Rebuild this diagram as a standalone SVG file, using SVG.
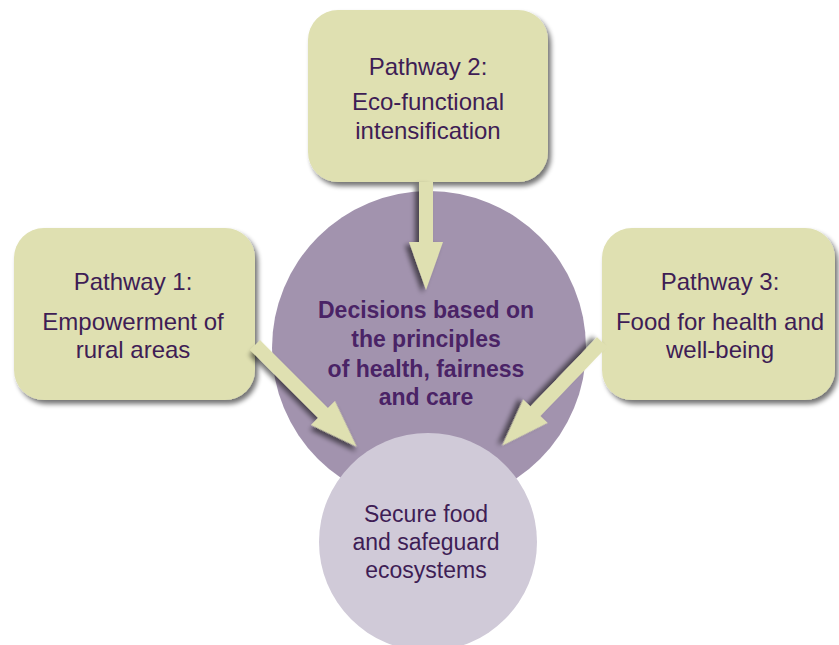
<svg xmlns="http://www.w3.org/2000/svg" width="839" height="645" viewBox="0 0 839 645">
<defs>
<filter id="sh" x="-20%" y="-20%" width="150%" height="150%">
<feGaussianBlur in="SourceAlpha" stdDeviation="2.5"/>
<feOffset dx="3" dy="4" result="b"/>
<feComponentTransfer><feFuncA type="linear" slope="0.55"/></feComponentTransfer>
<feMerge><feMergeNode/><feMergeNode in="SourceGraphic"/></feMerge>
</filter>
<style>
.box{fill:#dfe0b1;filter:url(#sh);}
.arr{fill:#dfe0b1;filter:url(#sh);}
.t{font-family:"Liberation Sans",Arial,sans-serif;font-size:24px;fill:#3e1d55;text-anchor:middle;}
.tb{font-family:"Liberation Sans",Arial,sans-serif;font-size:23px;font-weight:bold;fill:#4a2366;text-anchor:middle;}
.tc{font-family:"Liberation Sans",Arial,sans-serif;font-size:23px;fill:#3e1d55;text-anchor:middle;}
</style>
</defs>
<rect width="839" height="645" fill="#ffffff"/>
<g id="decisions">
<circle cx="429" cy="348" r="157" fill="#a293ae"/>
<text class="tb" x="426" y="318">Decisions based on</text>
<text class="tb" x="426" y="347">the principles</text>
<text class="tb" x="426" y="377">of health, fairness</text>
<text class="tb" x="426" y="405">and care</text>
</g>
<g id="secure">
<circle cx="428" cy="542" r="109" fill="#d0cad8"/>
<text class="tc" x="426" y="522">Secure food</text>
<text class="tc" x="426" y="550">and safeguard</text>
<text class="tc" x="426" y="578">ecosystems</text>
</g>
<g id="pathway2">
<rect class="box" x="308" y="10" width="240" height="172" rx="30"/>
<text class="t" x="428" y="75">Pathway 2:</text>
<text class="t" x="428" y="110">Eco-functional</text>
<text class="t" x="428" y="139">intensification</text>
</g>
<g id="pathway1">
<rect class="box" x="14" y="228" width="241" height="172" rx="30"/>
<text class="t" x="133" y="290">Pathway 1:</text>
<text class="t" x="133" y="330">Empowerment of</text>
<text class="t" x="133" y="358">rural areas</text>
</g>
<g id="pathway3">
<rect class="box" x="602" y="228" width="233" height="172" rx="30"/>
<text class="t" x="720" y="290">Pathway 3:</text>
<text class="t" x="720" y="330">Food for health and</text>
<text class="t" x="720" y="358">well-being</text>
</g>
<g id="connectors">
<polygon class="arr" transform="translate(426,182) rotate(90)" points="0,-7 60,-7 60,-17 108,0 60,17 60,7 0,7"/>
<polygon class="arr" transform="translate(255,345) rotate(45)" points="0,-7 96,-7 96,-17 144,0 96,17 96,7 0,7"/>
<polygon class="arr" transform="translate(602,342) rotate(133.9)" points="0,-7 96,-7 96,-17 144,0 96,17 96,7 0,7"/>
</g>
</svg>
